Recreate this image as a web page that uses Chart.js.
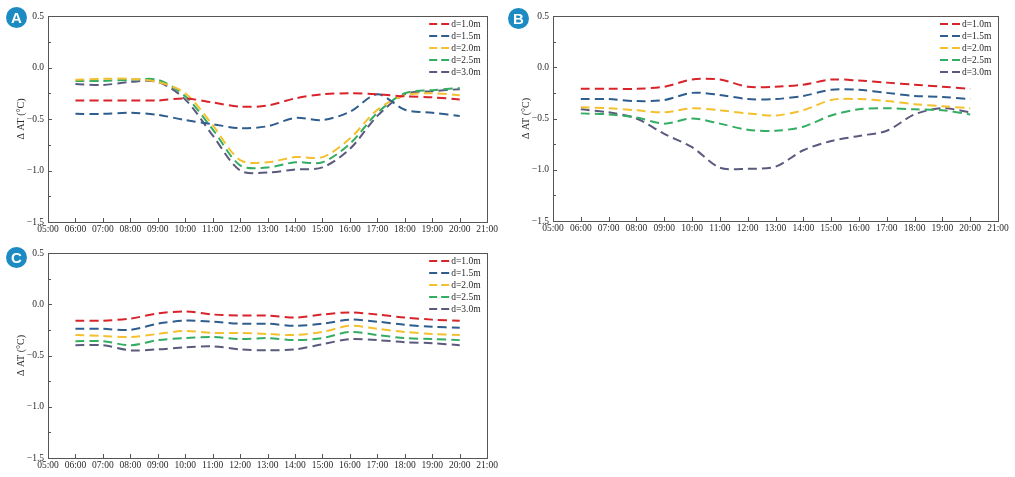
<!DOCTYPE html>
<html><head><meta charset="utf-8">
<script src="https://cdn.jsdelivr.net/npm/chart.js@4.4.1/dist/chart.umd.min.js"></script>
<style>
html,body{margin:0;padding:0;background:#fff;width:1015px;height:477px;overflow:hidden;position:relative}
canvas{position:absolute}
.badge{position:absolute;width:21px;height:21px;border-radius:50%;background:#1d8bc3;color:#fff;font:bold 15px "Liberation Sans",Arial,sans-serif;text-align:center;line-height:21px}
</style></head><body>
<canvas id="cA" width="500" height="240" style="left:0;top:0"></canvas>
<canvas id="cB" width="510" height="240" style="left:505px;top:0"></canvas>
<canvas id="cC" width="500" height="237" style="left:0;top:240px"></canvas>
<div class="badge" style="left:6px;top:7px">A</div>
<div class="badge" style="left:508px;top:8px">B</div>
<div class="badge" style="left:6px;top:247px">C</div>
<script>
// ---- data ----
const hours = [6,7,8,9,10,11,12,13,14,15,16,17,18,19,20];
const seriesLabels = ['d=1.0m','d=1.5m','d=2.0m','d=2.5m','d=3.0m'];
const yTitle = 'Δ AT (°C)';

// Panel A
const a10 = [-0.32,-0.32,-0.32,-0.32,-0.30,-0.34,-0.38,-0.37,-0.30,-0.26,-0.25,-0.26,-0.28,-0.29,-0.31];
const a15 = [-0.45,-0.45,-0.44,-0.46,-0.51,-0.55,-0.59,-0.57,-0.49,-0.51,-0.43,-0.26,-0.41,-0.44,-0.47];
const a20 = [-0.12,-0.11,-0.11,-0.14,-0.25,-0.56,-0.90,-0.92,-0.87,-0.87,-0.69,-0.41,-0.27,-0.25,-0.27];
const a25 = [-0.13,-0.13,-0.12,-0.12,-0.28,-0.60,-0.95,-0.97,-0.92,-0.92,-0.74,-0.44,-0.25,-0.22,-0.20];
const a30 = [-0.16,-0.17,-0.14,-0.14,-0.31,-0.66,-1.00,-1.02,-0.99,-0.97,-0.79,-0.47,-0.26,-0.23,-0.21];

// Panel B
const b10 = [-0.21,-0.21,-0.21,-0.19,-0.12,-0.12,-0.19,-0.19,-0.17,-0.12,-0.13,-0.15,-0.17,-0.19,-0.21];
const b15 = [-0.31,-0.31,-0.33,-0.32,-0.25,-0.27,-0.31,-0.31,-0.28,-0.22,-0.22,-0.25,-0.28,-0.29,-0.31];
const b20 = [-0.39,-0.40,-0.42,-0.44,-0.40,-0.42,-0.45,-0.47,-0.42,-0.32,-0.31,-0.33,-0.36,-0.38,-0.40];
const b25 = [-0.45,-0.46,-0.49,-0.55,-0.50,-0.55,-0.61,-0.62,-0.58,-0.47,-0.41,-0.40,-0.41,-0.42,-0.46];
const b30 = [-0.41,-0.44,-0.50,-0.65,-0.78,-0.98,-0.99,-0.97,-0.81,-0.72,-0.67,-0.62,-0.46,-0.40,-0.44];

// Panel C
const c10 = [-0.16,-0.16,-0.14,-0.09,-0.07,-0.10,-0.11,-0.11,-0.13,-0.10,-0.08,-0.10,-0.13,-0.15,-0.16];
const c15 = [-0.24,-0.24,-0.25,-0.19,-0.16,-0.17,-0.19,-0.19,-0.21,-0.19,-0.15,-0.17,-0.20,-0.22,-0.23];
const c20 = [-0.30,-0.31,-0.32,-0.29,-0.26,-0.28,-0.28,-0.29,-0.30,-0.27,-0.21,-0.24,-0.27,-0.29,-0.30];
const c25 = [-0.36,-0.36,-0.40,-0.35,-0.33,-0.32,-0.34,-0.33,-0.35,-0.33,-0.27,-0.30,-0.33,-0.34,-0.35];
const c30 = [-0.40,-0.40,-0.45,-0.44,-0.42,-0.41,-0.44,-0.45,-0.44,-0.39,-0.34,-0.35,-0.37,-0.38,-0.40];

// ---- style ----
const colors = ['#d9232b','#2f5d8e','#f4c02e','#33ad62','#5a5a7e'];
const FONT = '"Liberation Serif","Times New Roman",serif';
const TXT = '#2a2a2a';
const AXC = '#555';

function fmtY(v){ if (Math.abs(v) < 1e-9) return '0.0'; return (v<0?'\u2212':'') + Math.abs(v).toFixed(1); }
function fmtX(v){ return String(v).padStart(2,'0') + ':00'; }

const decor = {
  id: 'decor',
  afterDatasetsDraw(chart) {
    const {ctx, chartArea: a, scales} = chart;
    ctx.save();
    ctx.setLineDash([]);
    ctx.strokeStyle = AXC;
    ctx.lineWidth = 1;
    ctx.strokeRect(Math.round(a.left)+0.5, Math.round(a.top)+0.5, Math.round(a.right-a.left), Math.round(a.bottom-a.top));
    const ys = scales.y;
    for (let v = -1.5; v <= 0.5001; v += 0.25) {
      const py = Math.round(ys.getPixelForValue(v)) + 0.5;
      const major = Math.abs(v*2 - Math.round(v*2)) < 1e-6;
      ctx.beginPath();
      ctx.moveTo(a.left, py);
      ctx.lineTo(a.left + (major ? 4 : 3), py);
      ctx.stroke();
    }
    const xs = scales.x;
    for (let h = 6; h <= 20; h++) {
      const px = Math.round(xs.getPixelForValue(h)) + 0.5;
      ctx.beginPath();
      ctx.moveTo(px, a.bottom);
      ctx.lineTo(px, a.bottom - 4);
      ctx.stroke();
    }
    ctx.font = '9.5px ' + FONT;
    ctx.textBaseline = 'middle';
    ctx.textAlign = 'left';
    chart.data.datasets.forEach((ds, i) => {
      const y = a.top + 8 + i * 12;
      ctx.strokeStyle = ds.borderColor;
      ctx.lineWidth = 2;
      ctx.setLineDash([8,4]);
      ctx.beginPath();
      ctx.moveTo(a.right - 58, y);
      ctx.lineTo(a.right - 38, y);
      ctx.stroke();
      ctx.setLineDash([]);
      ctx.fillStyle = TXT;
      ctx.fillText(ds.label, a.right - 36, y + 0.5);
    });
    ctx.restore();
  }
};

function makeChart(id, series, pad, xH) {
  const datasets = series.map((vals, i) => ({
    label: seriesLabels[i],
    data: hours.map((h, j) => ({x: h, y: vals[j]})),
    borderColor: colors[i],
    backgroundColor: colors[i],
    borderWidth: 2,
    borderDash: [9,5],
    pointRadius: 0,
    tension: 0.3,
    fill: false
  }));
  new Chart(document.getElementById(id), {
    type: 'line',
    data: { datasets },
    plugins: [decor],
    options: {
      responsive: false,
      animation: false,
      devicePixelRatio: 1,
      layout: { padding: pad },
      plugins: { legend: { display: false }, tooltip: { enabled: false } },
      scales: {
        x: {
          type: 'linear', min: 5, max: 21,
          grid: { display: false, drawTicks: false },
          border: { display: false },
          afterFit: s => { s.height = xH; },
          ticks: { stepSize: 1, autoSkip: false, maxRotation: 0, minRotation: 0, padding: 2,
                   color: TXT, font: { family: FONT, size: 9.5 }, callback: fmtX }
        },
        y: {
          min: -1.5, max: 0.5,
          grid: { display: false, drawTicks: false },
          border: { display: false },
          afterFit: s => { s.width = 48; },
          ticks: { stepSize: 0.5, padding: 4, color: TXT, font: { family: FONT, size: 9.5 }, callback: fmtY },
          title: { display: true, text: yTitle, color: TXT, font: { family: FONT, size: 10 }, padding: { top: 15, bottom: 0 } }
        }
      }
    }
  });
}

makeChart('cA', [a10,a15,a20,a25,a30], {top:16, right:7, left:0, bottom:0}, 18);
makeChart('cB', [b10,b15,b20,b25,b30], {top:16, right:17, left:0, bottom:0}, 19);
makeChart('cC', [c10,c15,c20,c25,c30], {top:13, right:7, left:0, bottom:0}, 19);
</script>
</body></html>
